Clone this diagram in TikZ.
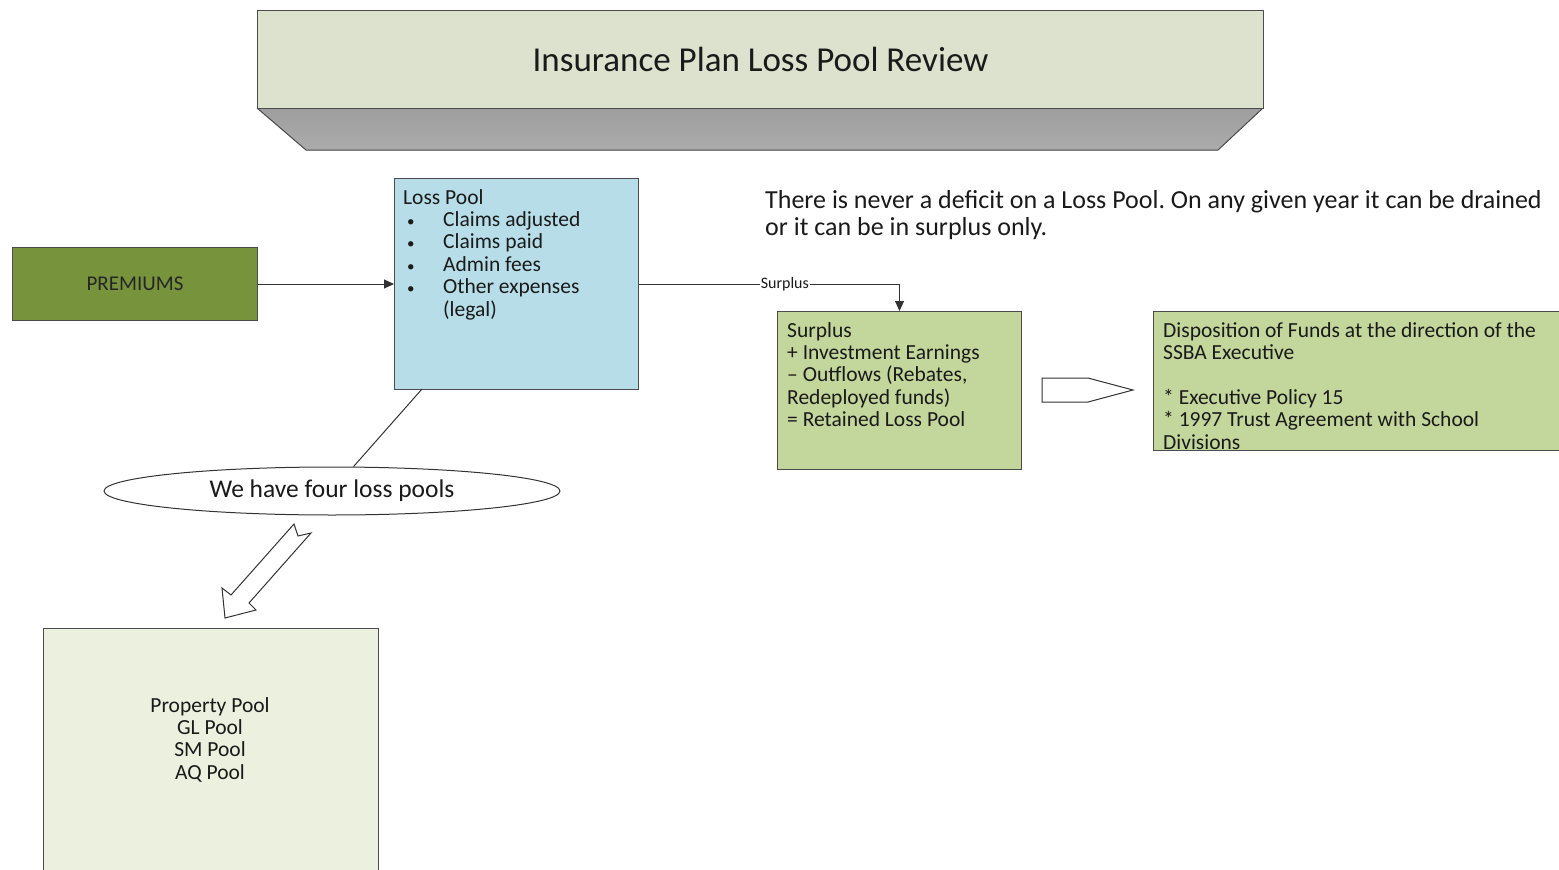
\documentclass[tikz,border=0pt]{standalone}
\usepackage{fontspec}
\setmainfont{Carlito}
\usetikzlibrary{arrows.meta,shapes.geometric}

\definecolor{titlefill}{HTML}{DCE2CD}
\definecolor{premgreen}{HTML}{77933C}
\definecolor{poolblue}{HTML}{B7DEE8}
\definecolor{olivelight}{HTML}{C3D69B}
\definecolor{palegreen}{HTML}{EBF1DE}
\definecolor{inkgray}{HTML}{1A1A1A}

\newcommand{\poolitem}{\makebox[40pt][l]{\hspace{4pt}{\fontsize{15}{15}\selectfont\textbullet}}}

\tikzset{
  box/.style={draw=black!70, line width=1pt, inner sep=0pt, anchor=north west},
  txt/.style={font=\fontsize{21.5}{22.4}\selectfont, text=inkgray, inner sep=0pt},
  hollow/.style={draw=black!80, line width=1pt, fill=white, line join=miter}
}

\begin{document}
\frenchspacing
\begin{tikzpicture}[x=1pt, y=-1pt]
  \useasboundingbox (0,0) rectangle (1559,870);
  % title banner
  \fill[top color=black!38, bottom color=black!33] (257,108) -- (1263,108) -- (1218,150) -- (306,150) -- cycle;
  \draw[black!70, line width=1pt] (257,108) -- (306,150) -- (1218,150) -- (1263,108);
  \node[box, fill=titlefill, minimum width=1006, minimum height=98] (title) at (257,10) {};
  \node[txt, font=\fontsize{35}{40}\selectfont] (titletext) at (title.center) {Insurance Plan Loss Pool Review};

  \node[box, fill=premgreen, minimum width=245, minimum height=73] (premiums) at (12,247) {};
  \node[txt, font=\fontsize{21}{24}\selectfont, text=black!85] (premtext) at (premiums.center) {PREMIUMS};

  \node[box, fill=poolblue, minimum width=244, minimum height=211] (losspool) at (394,178) {};
  \node[txt, anchor=north west, align=left] (losspooltext) at (403,189)
    {Loss Pool\\
     \poolitem Claims adjusted\\
     \poolitem Claims paid\\
     \poolitem Admin fees\\
     \poolitem Other expenses\\
     \hspace{40pt}(legal)};

  \node[txt, anchor=north west, align=left, font=\fontsize{26}{27}\selectfont] (deficitnote) at (765,190)
    {There is never a deficit on a Loss Pool. On any given year it can be drained\\
     or it can be in surplus only.};

  \node[box, fill=olivelight, minimum width=244, minimum height=158] (surplus) at (777,311) {};
  \node[txt, anchor=north west, align=left] (surplustext) at (787,322)
    {Surplus\\
     + Investment Earnings\\
     -- Outflows (Rebates,\\
     Redeployed funds)\\
     = Retained Loss Pool};

  \node[box, fill=olivelight, minimum width=412, minimum height=139] (disposition) at (1153,311) {};
  \node[txt, anchor=north west, align=left] (dispositiontext) at (1163,322)
    {Disposition of Funds at the direction of the\\
     SSBA Executive\\[22.4pt]
     * Executive Policy 15\\
     * 1997 Trust Agreement with School\\
     Divisions};

  \node[draw=black!80, line width=1pt, fill=white, ellipse, inner sep=0pt, minimum width=456, minimum height=48] (fourlosspools) at (332,491) {};
  \node[txt, font=\fontsize{25.5}{28}\selectfont] (ellipsetext) at (fourlosspools.center) {We have four loss pools};

  \node[box, fill=palegreen, minimum width=335, minimum height=260] (pools) at (43,628) {};
  \node[txt, align=center, anchor=north] (poolstext) at (210,697)
    {Property Pool\\ GL Pool\\ SM Pool\\ AQ Pool};

  \coordinate (lpfoot) at (422,389);

  \begin{scope}[draw=black!80, line width=1pt]
    \draw[-{Triangle[length=10pt,width=9pt]}] (premiums) to (losspool);
    \draw[-{Triangle[length=10pt,width=9pt]}] (losspool.east) -| node[pos=0.28, fill=white, inner sep=1pt, font=\fontsize{16}{18}\selectfont, text=inkgray] (surpluslabel) {Surplus} (surplus.north);
    \draw (lpfoot) to (fourlosspools);
  \end{scope}

  % block arrows
  \draw[hollow] (1042,378) -- (1088,378) -- (1133,390) -- (1088,402) -- (1042,402) -- cycle;
  \draw[hollow] (294,524) -- (298,536) -- (311,533) -- (249,603) -- (256,610) -- (225,618) -- (222,588) -- (231,595) -- cycle;
\end{tikzpicture}
\end{document}
